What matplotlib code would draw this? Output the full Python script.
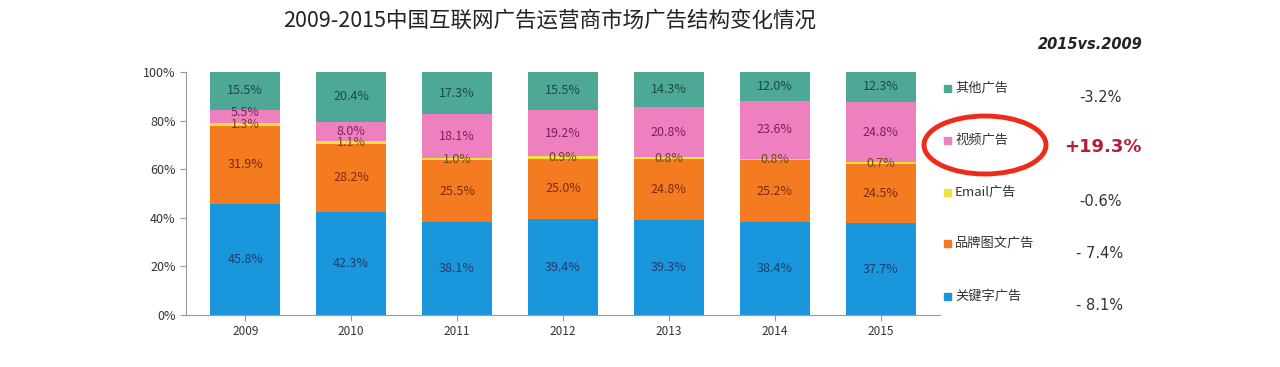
import numpy as np
import matplotlib.pyplot as plt
from matplotlib.patches import Ellipse

plt.rcParams['font.family'] = ['Noto Sans CJK SC', 'DejaVu Sans']

# --- dane ---
years = ['2009', '2010', '2011', '2012', '2013', '2014', '2015']
keyword = [45.8, 42.3, 38.1, 39.4, 39.3, 38.4, 37.7]
brand = [31.9, 28.2, 25.5, 25.0, 24.8, 25.2, 24.5]
email = [1.3, 1.1, 1.0, 0.9, 0.8, 0.8, 0.7]
video = [5.5, 8.0, 18.1, 19.2, 20.8, 23.6, 24.8]
other = [15.5, 20.4, 17.3, 15.5, 14.3, 12.0, 12.3]

series_names = ['关键字广告', '品牌图文广告', 'Email广告', '视频广告', '其他广告']
changes = ['- 8.1%', '- 7.4%', '-0.6%', '+19.3%', '-3.2%']

series = [keyword, brand, email, video, other]
colors = ['#1a97dc', '#f47b20', '#f2e33c', '#ef80c0', '#4ea896']
label_colors = ['#1e3d6b', '#7a2a12', '#6b4a10', '#7a1f62', '#1d4a40']

fig = plt.figure(figsize=(12.8, 3.67), dpi=100)
ax = fig.add_axes([0.1453, 0.1417, 0.589, 0.662])

x = np.arange(len(years))
bottom = np.zeros(len(years))
for vals, c, lc in zip(series, colors, label_colors):
    vals = np.array(vals)
    ax.bar(x, vals, 0.66, bottom=bottom, color=c, edgecolor='none')
    for xi, b, v in zip(x, bottom, vals):
        # cienki pasek nad waskim - podnies etykiete troche
        dy = 1.4 if 2 < v < 7 else 0
        ax.text(xi, b + v / 2 + dy, f'{v:.1f}%', ha='center', va='center',
                fontsize=9, color=lc)
    bottom += vals

ax.set_xlim(-0.56, len(years) - 0.44)
ax.set_ylim(0, 100)
ax.set_xticks(x)
ax.set_xticklabels(years, fontsize=8.5, color='#333333')
ax.set_yticks(np.arange(0, 101, 20))
ax.set_yticklabels([f'{v}%' for v in range(0, 101, 20)], fontsize=9, color='#333333')
for s in ['top', 'right']:
    ax.spines[s].set_visible(False)
for s in ['left', 'bottom']:
    ax.spines[s].set_color('#999999')
ax.tick_params(axis='both', colors='#999999', labelcolor='#333333', length=4)

fig.text(0.429, 0.945, '2009-2015中国互联网广告运营商市场广告结构变化情况',
         ha='center', va='center', fontsize=15.5, color='#222222')
fig.text(0.852, 0.878, '2015vs.2009', ha='center', va='center',
         fontsize=10.5, fontweight='bold', style='italic', color='#222222',
         family='DejaVu Sans')

# legenda po prawej
leg_y = [296, 243, 192, 140, 88]
val_y = [305, 254, 202, 147, 97]
for name, c, ch, ly, vy in zip(series_names, colors, changes, leg_y, val_y):
    fig.patches.append(plt.Rectangle((944 / 1280, 1 - (ly + 4) / 367), 7 / 1280, 7 / 367,
                                     transform=fig.transFigure, color=c))
    fig.text(955 / 1280, 1 - ly / 367, name, ha='left', va='center',
             fontsize=9.5, color='#333333')
    if ch.startswith('+'):
        fig.text(1103 / 1280, 1 - vy / 367, ch, ha='center', va='center',
                 fontsize=13, fontweight='bold', color='#b0203a', family='DejaVu Sans')
    else:
        fig.text(1100 / 1280, 1 - vy / 367, ch, ha='center', va='center',
                 fontsize=10.5, color='#333333', family='DejaVu Sans')

fig.patches.append(Ellipse((985 / 1280, 1 - 145 / 367), 122 / 1280, 58 / 367,
                           transform=fig.transFigure, fill=False,
                           edgecolor='#ee2a1a', linewidth=3.5))

fig.savefig('out.png', dpi=100)
